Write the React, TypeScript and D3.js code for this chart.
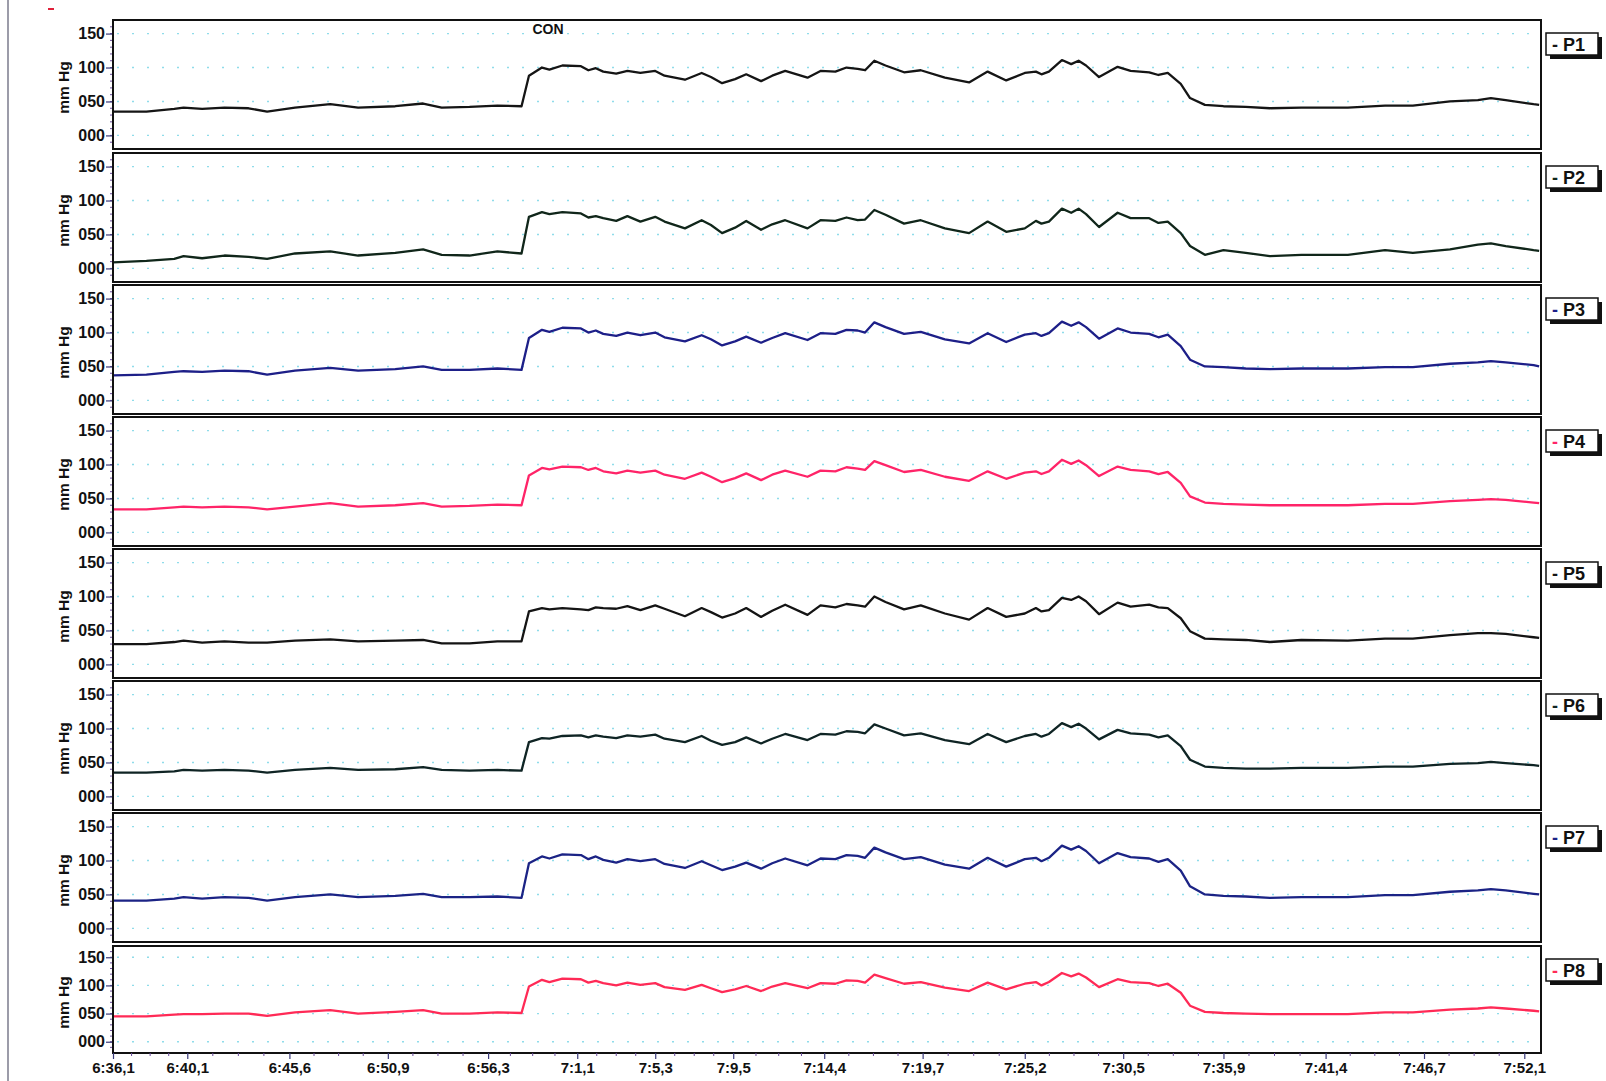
import React, { useEffect, useRef } from "react";
import * as d3 from "d3";

// sample times, minutes after midnight (6:36,1 -> 396.1)
const times = [396.1, 397.9, 399.4, 399.9, 400.9, 402.1, 403.4, 404.4, 405.9, 407.8, 409.3, 411.3, 412.8, 413.8, 415.3, 416.8, 418.1,
  418.5, 419.2, 419.6, 420.3, 421.3, 421.7, 422.1, 422.5, 423.2, 423.8, 424.5, 425.3, 425.8, 426.9, 427.8, 428.3, 428.9, 429.6, 430.2,
  431.0, 431.6, 432.3, 433.5, 434.2, 435.0, 435.6, 436.2, 436.6, 437.1, 437.7, 438.7, 439.6, 440.9, 442.2, 443.2, 444.2, 445.2, 445.8,
  446.1, 446.5, 447.2, 447.7, 448.1, 448.5, 449.2, 450.2, 450.9, 451.9, 452.4, 452.9, 453.6, 454.1, 454.9, 455.9, 457.1, 458.4, 460.1,
  462.6, 464.6, 466.1, 468.1, 469.6, 470.3, 471.1, 472.6, 472.9];

// pressure traces, mm Hg
const p1 = [35, 35, 39, 41, 39, 41, 40, 35, 41, 46, 41, 43, 47, 41, 42, 44, 43,
  88, 100, 97, 103, 102, 96, 99, 94, 91, 95, 92, 95, 88, 82, 92, 86, 77, 83, 90, 80, 88, 95, 85, 95, 94, 100, 98, 96, 110, 103, 93, 96,
  85, 78, 94, 81, 92, 94, 90, 94, 111, 105, 110, 103, 86, 101, 95, 93, 89, 92, 76, 55, 45, 43, 42, 40, 41, 41, 44, 44, 50, 52, 55, 52, 46, 45];
const p2 = [9, 11, 14, 18, 15, 19, 17, 14, 22, 25, 19, 23, 28, 20, 19, 25, 22,
  76, 83, 80, 83, 81, 75, 77, 74, 70, 77, 69, 76, 69, 59, 71, 64, 52, 60, 70, 57, 65, 71, 59, 71, 70, 75, 71, 72, 86, 79, 66, 71,
  59, 52, 69, 54, 59, 70, 66, 69, 88, 82, 88, 80, 61, 82, 74, 74, 67, 69, 52, 33, 20, 27, 23, 18, 20, 20, 27, 23, 28, 35, 37, 33, 27, 26];
const p3 = [37, 38, 42, 43, 42, 44, 43, 38, 44, 48, 44, 46, 50, 45, 45, 47, 45,
  92, 104, 101, 107, 106, 100, 103, 98, 95, 100, 96, 100, 93, 87, 96, 90, 81, 87, 94, 85, 92, 99, 89, 99, 98, 104, 103, 100, 115, 108, 98, 101,
  90, 84, 99, 86, 97, 99, 95, 99, 116, 110, 115, 108, 91, 106, 100, 98, 93, 97, 80, 60, 50, 49, 47, 46, 47, 47, 49, 49, 54, 56, 58, 56, 52, 50];
const p4 = [34, 34, 37, 38, 37, 38, 37, 34, 38, 43, 38, 40, 43, 38, 39, 41, 40,
  84, 95, 93, 97, 96, 92, 95, 90, 87, 91, 88, 91, 85, 79, 88, 82, 74, 80, 87, 77, 85, 91, 82, 91, 90, 96, 94, 92, 105, 99, 89, 92,
  82, 76, 90, 79, 88, 90, 86, 90, 107, 101, 106, 99, 83, 97, 92, 90, 86, 89, 73, 53, 44, 42, 41, 40, 40, 40, 42, 42, 46, 48, 49, 48, 44, 43];
const p5 = [30, 30, 33, 35, 32, 34, 32, 32, 35, 37, 34, 35, 36, 31, 31, 34, 34,
  78, 83, 81, 83, 81, 80, 84, 83, 82, 86, 80, 87, 82, 71, 83, 77, 69, 75, 83, 70, 79, 88, 73, 87, 84, 89, 87, 85, 100, 92, 81, 87,
  75, 66, 83, 70, 75, 83, 78, 80, 98, 95, 100, 93, 74, 91, 85, 88, 84, 83, 68, 49, 38, 37, 36, 33, 36, 35, 38, 38, 43, 46, 46, 45, 40, 39];
const p6 = [35, 35, 37, 39, 38, 39, 38, 35, 39, 42, 39, 40, 43, 39, 38, 39, 38,
  80, 86, 85, 89, 90, 87, 90, 88, 86, 90, 88, 91, 85, 80, 89, 82, 76, 80, 87, 78, 85, 92, 83, 92, 91, 96, 95, 93, 106, 100, 90, 93,
  83, 77, 92, 80, 89, 92, 88, 92, 108, 102, 107, 100, 84, 98, 93, 91, 87, 90, 74, 54, 44, 42, 41, 41, 42, 42, 44, 44, 48, 49, 51, 49, 46, 45];
const p7 = [41, 41, 44, 46, 44, 46, 45, 41, 46, 50, 46, 48, 51, 46, 46, 47, 45,
  96, 106, 103, 109, 108, 102, 106, 101, 97, 102, 99, 102, 95, 89, 99, 93, 86, 91, 97, 88, 96, 103, 93, 103, 102, 108, 107, 104, 119, 112, 102, 105,
  94, 88, 104, 91, 102, 104, 99, 104, 122, 116, 121, 114, 96, 111, 105, 103, 98, 102, 85, 62, 50, 48, 47, 45, 46, 46, 49, 49, 54, 56, 58, 56, 51, 50];
const p8 = [45, 45, 48, 49, 49, 50, 50, 46, 52, 56, 50, 53, 56, 50, 50, 52, 51,
  98, 110, 106, 112, 111, 105, 108, 104, 100, 105, 101, 104, 97, 92, 101, 95, 88, 93, 99, 90, 98, 104, 95, 104, 103, 109, 108, 105, 119, 113, 103, 106,
  96, 90, 105, 93, 103, 106, 100, 106, 122, 116, 121, 114, 97, 111, 106, 104, 99, 103, 87, 64, 53, 51, 50, 49, 49, 49, 52, 52, 57, 59, 61, 59, 55, 54];

const channels = ["P1", "P2", "P3", "P4", "P5", "P6", "P7", "P8"];
const traceColors = ["#151515", "#10261a", "#1d1f88", "#ff2468", "#141414", "#0f2424", "#1b2385", "#ff2a56"];

const xTickValues = [396.1, 400.1, 405.6, 410.9, 416.3, 421.1, 425.3, 429.5, 434.4, 439.7, 445.2, 450.5, 455.9, 461.4, 466.7, 472.1];
const xTickLabels = ["6:36,1", "6:40,1", "6:45,6", "6:50,9", "6:56,3", "7:1,1", "7:5,3", "7:9,5", "7:14,4", "7:19,7", "7:25,2", "7:30,5", "7:35,9", "7:41,4", "7:46,7", "7:52,1"];
const yTickValues = [0, 50, 100, 150];

// layout
const W = 1606, H = 1081;
const plotLeft = 113, plotRight = 1541;
const panelTop = [20, 153, 285, 417, 549, 681, 813, 946];
const panelBottom = [149, 282, 414, 546, 678, 810, 942, 1053];
const font = "'Liberation Sans', Arial, sans-serif";

export default function App() {
  const ref = useRef<SVGSVGElement>(null);

  useEffect(() => {
    const series = [p1, p2, p3, p4, p5, p6, p7, p8];
    const svg = d3.select(ref.current);
    svg.selectAll("*").remove();

    const x = d3.scaleLinear().domain([396.1, 473]).range([plotLeft, plotRight]);

    // scan edge + stray mark
    svg.append("line").attr("x1", 8).attr("x2", 8).attr("y1", 0).attr("y2", H)
      .attr("stroke", "#5a5a70").attr("stroke-width", 1.2);
    svg.append("line").attr("x1", 48).attr("x2", 54).attr("y1", 9).attr("y2", 9)
      .attr("stroke", "#e0203a").attr("stroke-width", 2);

    series.forEach((vals, i) => {
      const top = panelTop[i], bottom = panelBottom[i];
      const y = d3.scaleLinear().domain([-20, 170]).range([bottom, top]);
      const g = svg.append("g");

      // dotted grid
      g.selectAll(".grid").data(yTickValues).join("line").attr("class", "grid")
        .attr("x1", plotLeft + 4).attr("x2", plotRight - 2)
        .attr("y1", d => y(d)).attr("y2", d => y(d))
        .attr("stroke", "#8fdcea").attr("stroke-width", 1.4)
        .attr("stroke-dasharray", "2 13");

      // minor y ticks
      g.selectAll(".minor").data(d3.range(-10, 170, 10)).join("line").attr("class", "minor")
        .attr("x1", plotLeft - 3).attr("x2", plotLeft)
        .attr("y1", d => y(d)).attr("y2", d => y(d))
        .attr("stroke", "#6a4c9c").attr("stroke-width", 1);

      const yAxis = d3.axisLeft(y).tickValues(yTickValues)
        .tickFormat(d3.format("03d") as any).tickSize(7).tickPadding(1);
      const ay = g.append("g").attr("transform", `translate(${plotLeft},0)`).call(yAxis);
      ay.select(".domain").remove();
      ay.selectAll(".tick line").attr("stroke", "#3a3a7a").attr("stroke-width", 1.2);
      ay.selectAll(".tick text").attr("fill", "#111").style("font-family", font)
        .style("font-size", "16px").style("font-weight", "bold");

      g.append("text")
        .attr("transform", `translate(69,${(top + bottom) / 2 + 3}) rotate(-90)`)
        .attr("text-anchor", "middle").attr("fill", "#111")
        .style("font-family", font).style("font-size", "15.5px").style("font-weight", "bold")
        .text("mm Hg");

      // trace
      const line = d3.line<number>().x((d, j) => x(times[j])).y(d => y(d));
      g.append("path").datum(vals).attr("d", line).attr("fill", "none")
        .attr("stroke", traceColors[i]).attr("stroke-width", 2.3)
        .attr("stroke-linejoin", "round");

      // frame
      g.append("rect").attr("x", plotLeft).attr("y", top)
        .attr("width", plotRight - plotLeft).attr("height", bottom - top)
        .attr("fill", "none").attr("stroke", "#111").attr("stroke-width", 2);

      // legend box
      const lx = 1546, ly = top + 13;
      g.append("rect").attr("x", lx + 4).attr("y", ly + 4).attr("width", 52).attr("height", 22).attr("fill", "#111");
      g.append("rect").attr("x", lx).attr("y", ly).attr("width", 52).attr("height", 22)
        .attr("fill", "#fff").attr("stroke", "#111").attr("stroke-width", 1.5);
      const lt = g.append("text").attr("x", lx + 6).attr("y", ly + 17.5)
        .style("font-family", font).style("font-size", "18px").style("font-weight", "bold");
      lt.append("tspan").attr("fill", traceColors[i]).text("- ");
      lt.append("tspan").attr("fill", "#111").text(channels[i]);

      if (i === 0) {
        g.append("text").attr("x", 548).attr("y", 34).attr("text-anchor", "middle")
          .attr("fill", "#111").style("font-family", font).style("font-size", "14px")
          .style("font-weight", "bold").text("CON");
      }
    });

    // time axis under the last panel
    const bottom = panelBottom[panelBottom.length - 1];
    const minors: number[] = [];
    for (let k = 0; k < xTickValues.length - 1; k++) {
      const a = xTickValues[k], b = xTickValues[k + 1];
      for (let m = 1; m < 4; m++) minors.push(a + (b - a) * m / 4);
    }
    svg.append("g").selectAll("line").data(minors).join("line")
      .attr("x1", d => x(d)).attr("x2", d => x(d)).attr("y1", bottom).attr("y2", bottom + 3)
      .attr("stroke", "#6a4c9c").attr("stroke-width", 1);

    const xAxis = d3.axisBottom(x).tickValues(xTickValues)
      .tickFormat((d, k) => xTickLabels[k]).tickSize(6).tickPadding(3);
    const ax = svg.append("g").attr("transform", `translate(0,${bottom})`).call(xAxis);
    ax.select(".domain").remove();
    ax.selectAll(".tick line").attr("stroke", "#3a3a7a").attr("stroke-width", 1.2);
    ax.selectAll(".tick text").attr("fill", "#111").style("font-family", font)
      .style("font-size", "15px").style("font-weight", "bold");
  }, []);

  return (
    <svg ref={ref} width={W} height={H}
      style={{ position: "absolute", left: 0, top: 0, background: "#fff" }} />
  );
}
